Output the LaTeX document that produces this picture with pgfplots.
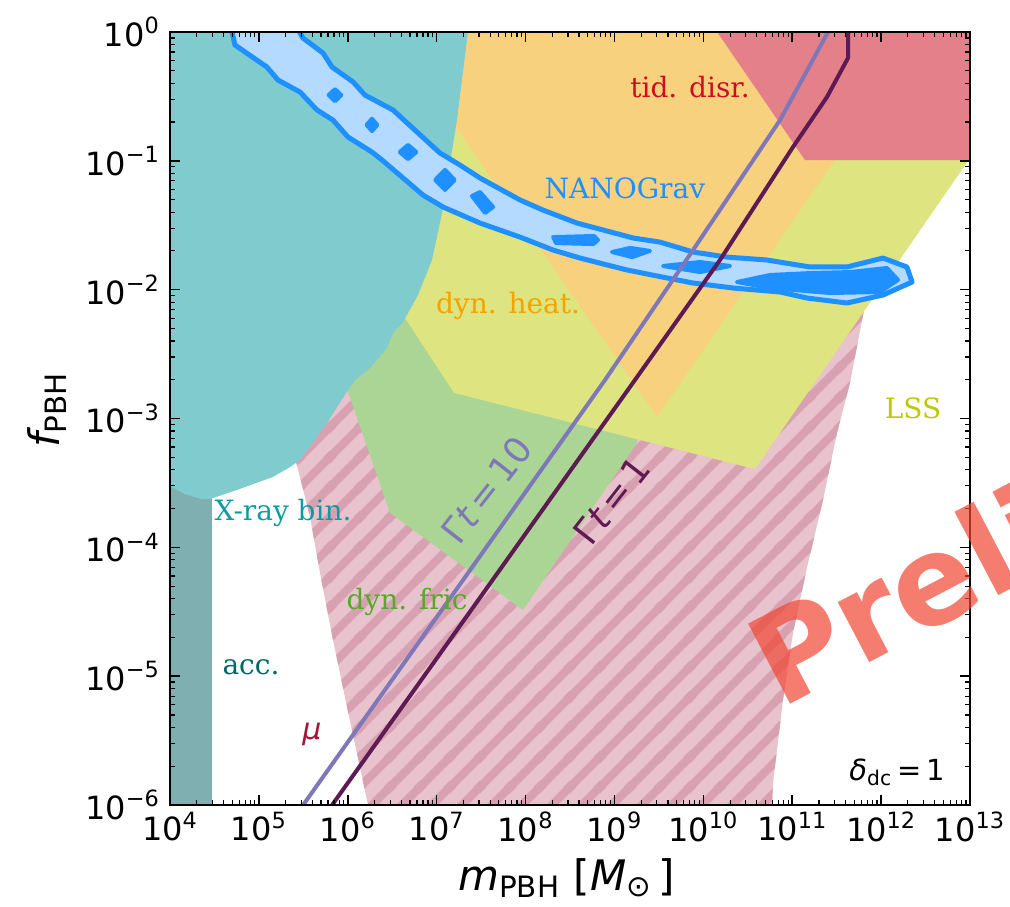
\documentclass[border=0pt]{standalone}
\usepackage{fontspec}
\setmainfont{DejaVu Serif}
\newfontfamily\dvsans{DejaVu Sans}[ItalicFont={DejaVu Sans Oblique},BoldFont={DejaVu Sans Bold}]
\usepackage{pgfplots}
\pgfplotsset{compat=1.18}
\usetikzlibrary{patterns.meta}

\definecolor{tealx}{HTML}{80CBCE}
\definecolor{accc}{HTML}{80AFB1}
\definecolor{orng}{HTML}{F8D17E}
\definecolor{yell}{HTML}{DEE480}
\definecolor{grn}{HTML}{AAD594}
\definecolor{redt}{HTML}{E4808A}
\definecolor{mubg}{HTML}{E8C3CD}
\definecolor{must}{HTML}{D8A1B1}
\definecolor{ngfill}{HTML}{B4DAFF}
\definecolor{ngline}{HTML}{1E90FF}
\definecolor{gten}{HTML}{7F78B8}
\definecolor{gone}{HTML}{5E1A52}
\definecolor{ttid}{HTML}{CC0E20}
\definecolor{theat}{HTML}{F5A300}
\definecolor{tlss}{HTML}{C0C800}
\definecolor{txray}{HTML}{119BA0}
\definecolor{tfric}{HTML}{55AA28}
\definecolor{tacc}{HTML}{006868}
\definecolor{tmu}{HTML}{A81438}
\definecolor{wm}{RGB}{240,70,50}

\tikzdeclarepattern{
  name=mustripes,
  type=uncolored,
  bounding box={(0pt,0pt) and (15pt,15pt)},
  tile size={(15pt,15pt)},
  code={
    \pgfsetlinewidth{4.2pt}
    \pgfpathmoveto{\pgfpoint{-2pt}{-2pt}}\pgfpathlineto{\pgfpoint{17pt}{17pt}}
    \pgfpathmoveto{\pgfpoint{-5pt}{10pt}}\pgfpathlineto{\pgfpoint{5pt}{20pt}}
    \pgfpathmoveto{\pgfpoint{10pt}{-5pt}}\pgfpathlineto{\pgfpoint{20pt}{5pt}}
    \pgfusepath{stroke}
  }
}

\newcommand{\tkl}[1]{10\textsuperscript{#1}}
\newcommand{\annf}{\fontsize{14}{17}\selectfont}

\begin{document}
\begin{tikzpicture}
\useasboundingbox (-85pt,-50.5pt) rectangle (420pt,402.5pt);
\begin{axis}[
  scale only axis, width=400pt, height=386.5pt,
  at={(0,0)}, anchor=south west,
  xmode=log, ymode=log,
  xmin=1e4, xmax=1e13, ymin=1e-6, ymax=1,
  axis on top,
  tick align=inside, tick pos=both,
  major tick length=5pt, minor tick length=2.6pt,
  every tick/.style={black, line width=0.75pt},
  every minor tick/.style={black, line width=0.6pt},
  axis line style={line width=0.8pt},
  xtick={1e4,1e5,1e6,1e7,1e8,1e9,1e10,1e11,1e12,1e13},
  xticklabels={\tkl{4},\tkl{5},\tkl{6},\tkl{7},\tkl{8},\tkl{9},\tkl{10},\tkl{11},\tkl{12},\tkl{13}},
  ytick={1e-6,1e-5,1e-4,1e-3,1e-2,1e-1,1},
  yticklabels={\tkl{−6},\tkl{−5},\tkl{−4},\tkl{−3},\tkl{−2},\tkl{−1},\tkl{0}},
  ticklabel style={font=\dvsans\fontsize{16}{19}\selectfont},
  yticklabel style={xshift=-1.5pt},
  xlabel={{\itshape m}\textsubscript{PBH} [{\itshape M}\textsubscript{⊙}\,]},
  ylabel={{\itshape f}\textsubscript{PBH}},
  label style={font=\dvsans\fontsize{21}{25}\selectfont},
  xlabel style={at={(axis description cs:0.496,-0.094)}, anchor=center},
  ylabel style={at={(axis description cs:-0.154,0.511)}, anchor=center},
]
% mu distortion (hatched)
\addplot[draw=none, fill=mubg, postaction={pattern=mustripes, pattern color=must}] coordinates {
(2.62e5,4.59e-4) (3.76e5,1.72e-4) (4.87e5,6.32e-5) (6.82e5,1.91e-5) (9.80e5,5.77e-6) (1.37e6,1.97e-6) (1.69e6,1e-6)
(5.92e10,1e-6) (6.08e10,1.48e-6) (7.87e10,6.53e-6) (1.02e11,2.16e-5) (1.47e11,7.04e-5) (2.22e11,2.33e-4)
(3.19e11,7.71e-4) (4.47e11,1.89e-3) (6.6e11,7.7e-3) (1.23e11,1.19e-2) (1.41e7,2.38e-3) (9.31e5,1.73e-3) (5.13e5,9.23e-4)
} --cycle;
% dynamical friction
\addplot[draw=none, fill=grn] coordinates {
(1.006e6,1.61e-3) (2.99e6,1.85e-4) (9.36e7,3.26e-5) (1.79e9,6.45e-4) (1.79e9,1e-2) (1e6,1e-2)
} --cycle;
% LSS
\addplot[draw=none, fill=yell] coordinates {
(4.40e6,6.03e-3) (1.57e7,1.58e-3) (3.81e10,4.05e-4) (1e13,0.105) (1e13,1) (6.49e6,1) (3.4e6,0.02)
} --cycle;
% dynamical heating
\addplot[draw=none, fill=orng] coordinates {
(3e6,1) (3e12,1) (3.01e9,1.03e-3)
} --cycle;
% tidal disruption
\addplot[draw=none, fill=redt] coordinates {
(1.43e10,1) (1.39e11,0.1015) (1e13,0.1015) (1e13,1)
} --cycle;
% accretion
\addplot[draw=none, fill=accc] coordinates {
(1e4,1e-6) (2.97e4,1e-6) (2.97e4,4e-4) (1e4,4e-4)
} --cycle;
% X-ray binaries
\addplot[draw=none, fill=tealx] coordinates {
(1e4,1) (2.25e7,1) (1.69e7,0.207) (1.15e7,0.0394) (8.86e6,0.0170) (6.17e6,9.09e-3) (4.18e6,5.61e-3)
(3.23e6,4.61e-3) (2.76e6,3.53e-3) (1.78e6,2.47e-3) (1.21e6,1.99e-3) (1.006e6,1.66e-3) (5.83e5,9.23e-4)
(2.90e5,4.76e-4) (2.24e5,4.20e-4) (1.44e5,3.52e-4) (5.67e4,2.79e-4) (2.82e4,2.37e-4) (2.29e4,2.37e-4)
(1.47e4,2.59e-4) (1e4,2.99e-4)
} --cycle;
% NANOGrav outer contour
\addplot[draw=ngline, line width=2.5pt, line join=round, fill=ngfill] coordinates {
(2.68e5,1.355) (2.90e5,0.982) (3.13e5,0.898) (5.26e5,0.687) (6.65e5,0.535) (1.15e6,0.409) (1.56e6,0.324)
(3.23e6,0.248) (4.64e6,0.197) (1.09e7,0.115) (1.83e7,0.0928) (3.07e7,0.0736) (8.66e7,0.0497) (1.57e8,0.0415)
(3.79e8,0.0329) (1.62e9,0.0252) (3.25e9,0.0234) (7.66e9,0.0196) (1.85e10,0.0179) (5.20e10,0.0170)
(1.58e11,0.0150) (4.13e11,0.0150) (1.05e12,0.0176) (1.95e12,0.0150) (2.23e12,0.01147)
(1.05e12,9.09e-3) (4.13e11,7.88e-3) (1.47e11,8.61e-3) (7.29e10,9.59e-3) (2.16e10,0.0103) (7.66e9,0.01127)
(3.90e9,0.01233) (1.38e9,0.01422) (4.10e8,0.0176) (2.04e8,0.0203) (8.66e7,0.0256) (3.07e7,0.0329)
(1.18e7,0.0438) (7.01e6,0.0543) (2.43e6,0.1015) (1.87e6,0.117) (1.006e6,0.153) (6.82e5,0.207)
(4.51e5,0.248) (2.90e5,0.342) (1.64e5,0.424) (1.23e5,0.535) (6.98e4,0.70) (5.38e4,0.793) (4.98e4,1.0) (4.73e4,1.355)
} --cycle;
% NANOGrav inner contours
\addplot[draw=ngline, line width=2pt, line join=round, fill=ngline] coordinates {(6.1e5,0.324) (7.18e5,0.36) (8.45e5,0.324) (7.18e5,0.29)} --cycle;
\addplot[draw=ngline, line width=2pt, line join=round, fill=ngline] coordinates {(1.63e6,0.190) (1.87e6,0.212) (2.15e6,0.190) (1.87e6,0.170)} --cycle;
\addplot[draw=ngline, line width=2pt, line join=round, fill=ngline] coordinates {(3.85e6,0.117) (4.76e6,0.133) (5.9e6,0.117) (4.76e6,0.103)} --cycle;
\addplot[draw=ngline, line width=2pt, line join=round, fill=ngline] coordinates {(9.6e6,0.0710) (1.24e7,0.085) (1.6e7,0.0710) (1.24e7,0.0595)} --cycle;
\addplot[draw=ngline, line width=2pt, line join=round, fill=ngline] coordinates {(2.50e7,0.0533) (3.07e7,0.0573) (4.31e7,0.0438) (3.50e7,0.0394)} --cycle;
\addplot[draw=ngline, line width=2pt, line join=round, fill=ngline] coordinates {(2.04e8,0.0256) (5.89e8,0.0261) (6.53e8,0.0243) (5.8e8,0.0226) (2.20e8,0.0230)} --cycle;
\addplot[draw=ngline, line width=2pt, line join=round, fill=ngline] coordinates {(9.39e8,0.0196) (1.50e9,0.0211) (2.51e9,0.0200) (1.58e9,0.0179)} --cycle;
\addplot[draw=ngline, line width=2pt, line join=round, fill=ngline] coordinates {(3.52e9,0.01527) (9.17e9,0.0164) (2.0e10,0.01527) (9.17e9,0.0137)} --cycle;
\addplot[draw=ngline, line width=2pt, line join=round, fill=ngline] coordinates {
(2.39e10,0.01147) (5.62e10,0.0130) (1.58e11,0.01346) (4.47e11,0.0137) (1.16e12,0.01473) (1.55e12,0.0119)
(9.72e11,9.59e-3) (2.66e11,9.42e-3) (5.62e10,0.0103)} --cycle;
% Gamma t lines
\addplot[gten, line width=2pt, line join=round] coordinates {
(2.52e5,8.07e-7) (1.98e7,5.57e-5) (7.83e8,1.99e-3) (7.66e9,0.0203) (2.58e10,0.0710) (7.29e10,0.207) (2.53e11,1) (3.66e11,1.24)};
\addplot[gone, line width=2pt, line join=round] coordinates {
(5.33e5,8.07e-7) (1.69e7,2.28e-5) (1.70e9,1.99e-3) (1.54e10,0.0170) (1.02e11,0.128) (2.46e11,0.313) (4.24e11,0.628) (4.24e11,1.3)};
% labels
\node[text=ttid, font=\annf] at (axis cs:7.08e9,0.374) {tid. disr.};
\node[text=ngline, font=\annf] at (axis cs:1.31e9,0.0615) {NANOGrav};
\node[text=theat, font=\annf] at (axis cs:6.35e7,7.47e-3) {dyn. heat.};
\node[text=tlss, font=\annf] at (axis cs:2.29e12,1.21e-3) {LSS};
\node[text=txray, font=\annf] at (axis cs:1.87e5,1.85e-4) {X-ray bin.};
\node[text=tfric, font=\annf] at (axis cs:4.64e6,3.77e-5) {dyn. fric};
\node[text=tacc, font=\annf] at (axis cs:8.15e4,1.18e-5) {acc.};
\node[text=tmu, font=\dvsans\itshape\fontsize{15}{18}\selectfont] at (axis cs:3.96e5,3.56e-6) {μ};
\node[text=gten, font=\dvsans\fontsize{18}{21}\selectfont, rotate=52] at (axis cs:3.68e7,2.79e-4) {Γ{\itshape t}\,=\,10};
\node[text=gone, font=\dvsans\fontsize{18}{21}\selectfont, rotate=52] at (axis cs:9.39e8,2.33e-4) {Γ{\itshape t}\,=\,1};
\node[text=black, font=\dvsans\fontsize{14.5}{17}\selectfont] at (axis cs:1.51e12,1.80e-6) {{\itshape δ}\textsubscript{dc}\,=\,1};
\coordinate (prelim) at (axis cs:7.29e10,5.46e-6);
\end{axis}
\node[anchor=base west, inner sep=0pt, rotate=27.7, text=wm, opacity=0.7,
      font=\dvsans\bfseries\fontsize{62}{62}\selectfont] at (prelim) {Preliminary};
\end{tikzpicture}
\end{document}
